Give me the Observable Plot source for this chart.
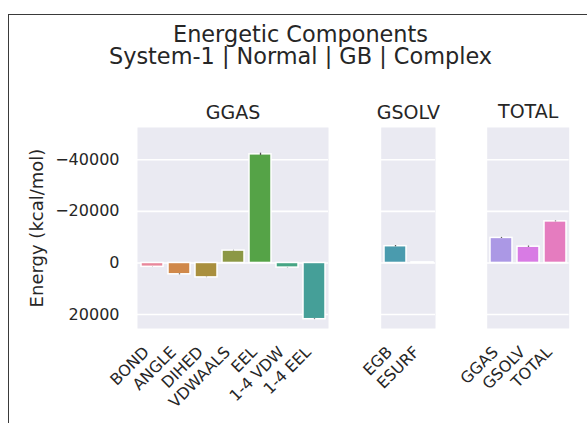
<!DOCTYPE html>
<html>
<head>
<meta charset="utf-8">
<script src="https://cdn.jsdelivr.net/npm/d3@7"></script>
<script src="https://cdn.jsdelivr.net/npm/@observablehq/plot@0.6"></script>
<style>
  html, body { margin: 0; padding: 0; background: #fff; }
  #fig { position: relative; width: 587px; height: 423px; overflow: hidden; background: #fff; font-family: "DejaVu Sans", sans-serif; color: #262626; }
  #border { position: absolute; left: 8px; top: 14px; width: 700px; height: 600px; border: 1.5px solid #3a3a3a; box-sizing: border-box; }
  .title { position: absolute; left: 0; width: 601px; text-align: center; font-size: 22.4px; line-height: 22.6px; height: 22.6px; white-space: nowrap; }
  .panel { position: absolute; top: 0; }
</style>
</head>
<body>
<div id="fig">
  <div id="border"></div>
  <div class="title" style="top:22.5px">Energetic Components</div>
  <div class="title" style="top:45.1px">System-1 | Normal | GB | Complex</div>
  <div class="panel" id="p1"></div>
  <div class="panel" id="p2"></div>
  <div class="panel" id="p3"></div>
</div>
<script>
// ---- data ----
const groups = ["GGAS", "GSOLV", "TOTAL"];

const ggasNames  = ["BOND", "ANGLE", "DIHED", "VDWAALS", "EEL", "1-4 VDW", "1-4 EEL"];
const ggasValues = [1500, 4400, 5600, -4800, -42100, 1800, 21800];
const ggasErr    = [40, 200, 80, 100, 450, 60, 150];
const ggasColors = ["#e8879b", "#d0884a", "#a98f3e", "#8c9845", "#55a347", "#46a585", "#459f98"];

const gsolvNames  = ["EGB", "ESURF"];
const gsolvValues = [-6500, -250];
const gsolvErr    = [250, 5];
const gsolvColors = ["#4a9bae", "#5b93c8"];

const totalNames  = ["GGAS", "GSOLV", "TOTAL"];
const totalValues = [-9700, -6300, -16100];
const totalErr    = [200, 250, 150];
const totalColors = ["#ab98e5", "#d87be4", "#e57cbf"];

const yTicks  = [-40000, -20000, 0, 20000];
const yDomain = [-52500, 25400];
const yLabel  = "Energy (kcal/mol)";

// ---- drawing ----
function panel(title, names, values, errs, colors, opt) {
  const rows = names.map((n, i) => ({name: n, value: values[i], err: errs[i]}));
  const marks = [
    Plot.frame({fill: "#EAEAF2", stroke: null}),
    Plot.gridY(yTicks, {stroke: "white", strokeOpacity: 1, strokeWidth: 1.6}),
    Plot.barY(rows, {x: "name", y: "value", fill: "name", stroke: "white", strokeWidth: 1.5}),
    Plot.ruleX(rows, {x: "name", y1: d => d.value - d.err, y2: d => d.value + d.err, stroke: "#555", strokeWidth: 1.3}),
    Plot.axisX({tickRotate: -45, tickSize: 0, tickPadding: 21, dx: -6, fontSize: 15.8, label: null}),
    Plot.text([title], {frameAnchor: "top", lineAnchor: "bottom", dy: -9, fontSize: 19, fill: "#262626"})
  ];
  if (opt.yAxis) {
    marks.push(Plot.axisY(yTicks, {tickSize: 0, tickPadding: 18, fontSize: 16, tickFormat: d3.format("d"), label: null}));
    marks.push(Plot.text([yLabel], {frameAnchor: "left", textAnchor: "middle", lineAnchor: "middle", rotate: -90, dx: -100, fontSize: 18, fill: "#262626"}));
  }
  return Plot.plot({
    width: opt.width, height: 423,
    marginTop: 127, marginBottom: 95, marginLeft: opt.ml, marginRight: opt.mr,
    style: {background: "transparent", overflow: "visible", fontFamily: "DejaVu Sans", color: "#262626"},
    x: {domain: names, paddingInner: 0.2, paddingOuter: 0.1, label: null},
    y: {domain: yDomain, reverse: true, label: null, axis: opt.yAxis ? undefined : null},
    color: {domain: names, range: colors},
    marks
  });
}

function place(id, left, node) {
  const el = document.getElementById(id);
  el.style.left = left + "px";
  el.appendChild(node);
}

// GGAS: frame 137..328 ; GSOLV: 380.7..435 ; TOTAL: 486.7..568.7
place("p1", 0,   panel(groups[0], ggasNames,  ggasValues,  ggasErr,  ggasColors,  {width: 338, ml: 137, mr: 10, yAxis: true}));
place("p2", 300, panel(groups[1], gsolvNames, gsolvValues, gsolvErr, gsolvColors, {width: 155, ml: 80.7, mr: 155 - 80.7 - 54.3, yAxis: false}));
place("p3", 420, panel(groups[2], totalNames, totalValues, totalErr, totalColors, {width: 158.7, ml: 66.7, mr: 10, yAxis: false}));
</script>
</body>
</html>
